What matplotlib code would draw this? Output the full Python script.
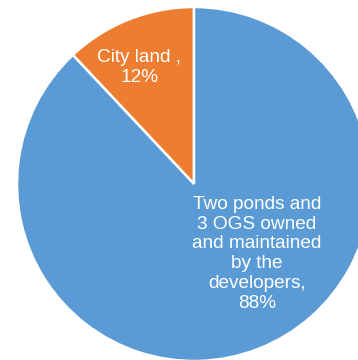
import matplotlib
matplotlib.use('Agg')
import matplotlib.pyplot as plt

labels = ['City land ,', 'Two ponds and\n3 OGS owned\nand maintained\nby the\ndevelopers,']
shares = [12, 88]
colors = ['#ED7D31', '#5B9BD5']
# where each label sits, in units of the pie radius
label_pos = [(-0.31, 0.66), (0.355, -0.395)]

plt.rcParams['font.family'] = ['Liberation Sans', 'DejaVu Sans']

dpi = 100
fig = plt.figure(figsize=(358 / dpi, 360 / dpi), dpi=dpi)
# pie is bigger than the canvas, right and bottom get clipped
ax = fig.add_axes([17 / 358, -1 / 360, 354 / 358, 354 / 360])

ax.pie(shares, colors=colors, startangle=90, counterclock=True, radius=1.0,
       wedgeprops=dict(edgecolor='white', linewidth=1.8))

for lab, val, (x, y) in zip(labels, shares, label_pos):
    ax.text(x, y, '%s\n%d%%' % (lab, val), ha='center', va='center',
            color='white', fontsize=13.7, linespacing=1.22)

ax.set_xlim(-1, 1)
ax.set_ylim(-1, 1)
ax.set_aspect('equal')
ax.axis('off')

fig.savefig('out.png', dpi=dpi)
